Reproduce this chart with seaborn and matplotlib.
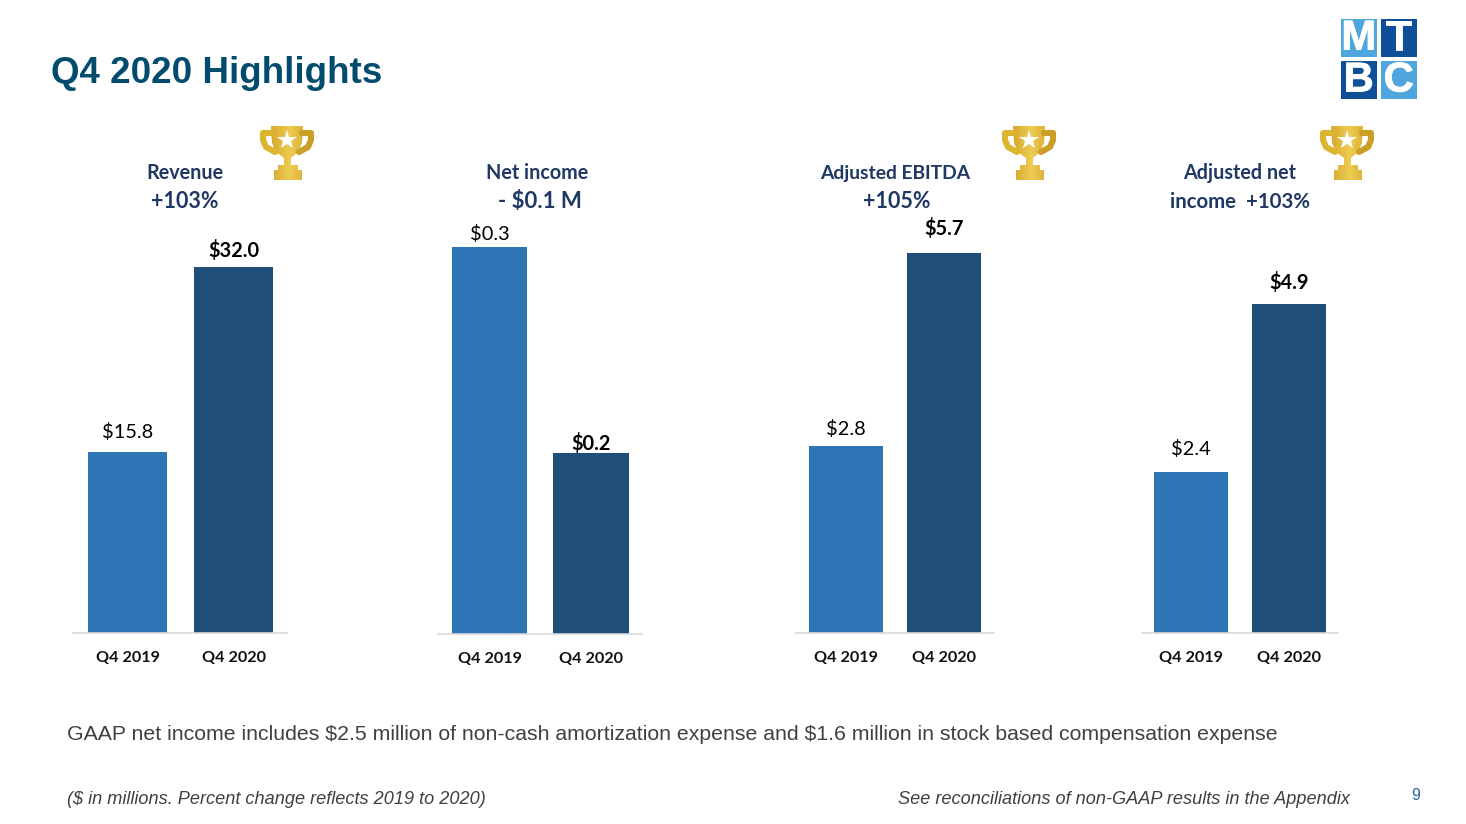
import matplotlib
matplotlib.use("Agg")
import matplotlib.pyplot as plt
import numpy as np
import pandas as pd
import seaborn as sns
from matplotlib.patches import Rectangle, Polygon, PathPatch
from matplotlib.path import Path
import matplotlib.patheffects as pe

periods = ["Q4 2019", "Q4 2020"]
revenue = [15.8, 32.0]
net_income = [0.3, 0.14]
adj_ebitda = [2.8, 5.7]
adj_net_income = [2.4, 4.9]
revenue_labels = ["\\$15.8", "\\$32.0"]
net_income_labels = ["\\$0.3", "\\$0.2"]
ebitda_labels = ["\\$2.8", "\\$5.7"]
adj_net_labels = ["\\$2.4", "\\$4.9"]
title = "Q4 2020 Highlights"
note = ("GAAP net income includes \\$2.5 million of non-cash amortization expense "
        "and \\$1.6 million in stock based compensation expense")
foot_left = "(\\$ in millions. Percent change reflects 2019 to 2020)"
foot_right = "See reconciliations of non-GAAP results in the Appendix"

W, H = 1466, 824
sns.set_theme(style="white")
plt.rcParams["font.family"] = ["Lato", "DejaVu Sans"]
fig = plt.figure(figsize=(W / 100, H / 100), dpi=100, facecolor="white")

COL = ["#2e75b6", "#1f4e79"]
LABEL = "Lato"
ARIAL = "Liberation Sans"


def panel(values, texts, x0, x1, base, top_px, c0, c1, bw, label_ys, tick_y):
    """Axes spans x0..x1 px; bar centres c0, c1 px; the tallest bar reaches top_px."""
    ax = fig.add_axes([x0 / W, 1 - base / H, (x1 - x0) / W, (base - top_px) / H])
    df = pd.DataFrame({"period": periods, "value": values})
    sns.barplot(data=df, x="period", y="value", hue="period", palette=COL,
                legend=False, width=bw / (c1 - c0), saturation=1, linewidth=0, ax=ax)
    sp = c1 - c0
    ax.set_xlim((x0 - c0) / sp, (x1 - c0) / sp)
    ax.set_ylim(0, max(values))
    ax.patch.set_alpha(0)
    for s in ["top", "left", "right"]:
        ax.spines[s].set_visible(False)
    ax.spines["bottom"].set_color("#d9d9d9")
    ax.spines["bottom"].set_linewidth(1.2)
    ax.set_xlabel("")
    ax.set_ylabel("")
    ax.set_yticks([])
    ax.tick_params(axis="x", length=0, pad=0)
    ax.set_xticks([0, 1])
    ax.set_xticklabels(["", ""])
    for i, t in enumerate(texts):
        ov.text([c0, c1][i], label_ys[i] + 1, t, ha="center", va="center",
                fontsize=14.4, family=LABEL, color="black",
                fontweight="bold" if i == 1 else "normal")
        ov.text([c0, c1][i], tick_y + 2, periods[i], ha="center", va="center",
                fontsize=11.7, family=LABEL, fontweight="bold", color="#111111")
    return ax


ov = fig.add_axes([0, 0, 1, 1], zorder=5)
ov.set_xlim(0, W)
ov.set_ylim(H, 0)
ov.axis("off")
ov.patch.set_alpha(0)

panel(revenue, revenue_labels, 73, 287, 633, 267, 127.5, 233.5, 79, (431, 249), 656)
panel(net_income, net_income_labels, 438, 642, 634, 247, 489.5, 591, 75.5, (233, 442), 657)
panel(adj_ebitda, ebitda_labels, 796, 994, 633, 253, 846, 944, 74, (428, 227), 656)
panel(adj_net_income, adj_net_labels, 1142, 1338, 633, 304, 1191, 1289, 74, (448, 281), 656)

# Headings above the panels
HEAD = "#1f3864"
for x, y, s, size in [
    (185, 173, "Revenue", 14.2), (185, 201.5, "+103%", 15.5),
    (537.5, 173, "Net income", 14.2), (539.5, 201.5, "- \\$0.1 M", 16),
    (895, 173, "Adjusted EBITDA", 13.9), (897, 201.5, "+105%", 15.5),
    (1240, 173, "Adjusted net", 14.2), (1240, 201.5, "income  +103%", 14.7),
]:
    ov.text(x, y, s, ha="center", va="center", fontsize=size, family=LABEL,
            fontweight="bold", color=HEAD)

# Slide texts
ov.text(51, 73, title, ha="left", va="center", fontsize=26.5, family=ARIAL,
        fontweight="bold", color="#004b6e")
ov.text(67, 734, note, ha="left", va="center", fontsize=15.3, family=ARIAL, color="#404040")
ov.text(67, 799, foot_left, ha="left", va="center", fontsize=13.1, family=ARIAL,
        style="italic", color="#404040")
ov.text(1350, 799, foot_right, ha="right", va="center", fontsize=13.1, family=ARIAL,
        style="italic", color="#404040")
ov.text(1416, 795, "9", ha="center", va="center", fontsize=11.5, family=ARIAL, color="#2a6496")

# Logo
LIGHT, DARK = "#4ea6dc", "#0f4f97"
for (x, y, c, ch) in [(1341, 19, LIGHT, "M"), (1381, 19, DARK, "T"),
                      (1341, 61, DARK, "B"), (1381, 61, LIGHT, "C")]:
    ov.add_patch(Rectangle((x, y), 35.5, 38, fc=c, ec="none"))
    t = ov.text(x + 17.7, y + 19.5, ch, ha="center", va="center", fontsize=30,
                family=ARIAL, fontweight="bold", color="white")
    t.set_path_effects([pe.withStroke(linewidth=0.6, foreground="white")])


# Trophy icons
def trophy(left, top):
    def P(pts):
        return [(left + a, top + b) for a, b in pts]
    cup = Polygon(P([(11, 1), (43, 1), (42, 18), (38, 27), (31, 33), (31, 40), (38, 40),
                     (38, 45), (42, 45), (42, 55), (14, 55), (14, 45), (18, 45), (18, 40),
                     (24, 40), (24, 33), (16, 27), (12, 18)]),
                  closed=True, transform=ov.transData)
    grad = np.linspace(0, 1, 64).reshape(1, -1)
    stops = np.abs(grad - 0.55) / 0.55
    rgb = np.dstack([0.93 - 0.14 * stops, 0.80 - 0.22 * stops, 0.32 - 0.22 * stops])
    im = ov.imshow(rgb, extent=(left, left + 54, top + 56, top), aspect="auto",
                   zorder=2, interpolation="bilinear")
    im.set_clip_path(cup)
    handle = "#dcb52f"
    codes = [Path.MOVETO, Path.LINETO, Path.LINETO, Path.LINETO, Path.LINETO]
    verts = P([(12, 8), (3, 8), (3, 15), (6, 22), (15, 27)])
    ov.add_patch(PathPatch(Path(verts, codes), fc="none", ec=handle, lw=4.4, zorder=2,
                           capstyle="round", joinstyle="round"))
    verts = P([(42, 8), (51, 8), (51, 15), (48, 22), (39, 27)])
    ov.add_patch(PathPatch(Path(verts, codes), fc="none", ec="#c99f28", lw=4.4, zorder=2,
                           capstyle="round", joinstyle="round"))
    ov.plot([left + 27], [top + 15], marker="*", ms=15, color="white", mew=0, zorder=3)


for lx in (260, 1002, 1320):
    trophy(lx, 125)
ov.set_xlim(0, W)
ov.set_ylim(H, 0)

fig.savefig("out.png", dpi=100, facecolor="white")
